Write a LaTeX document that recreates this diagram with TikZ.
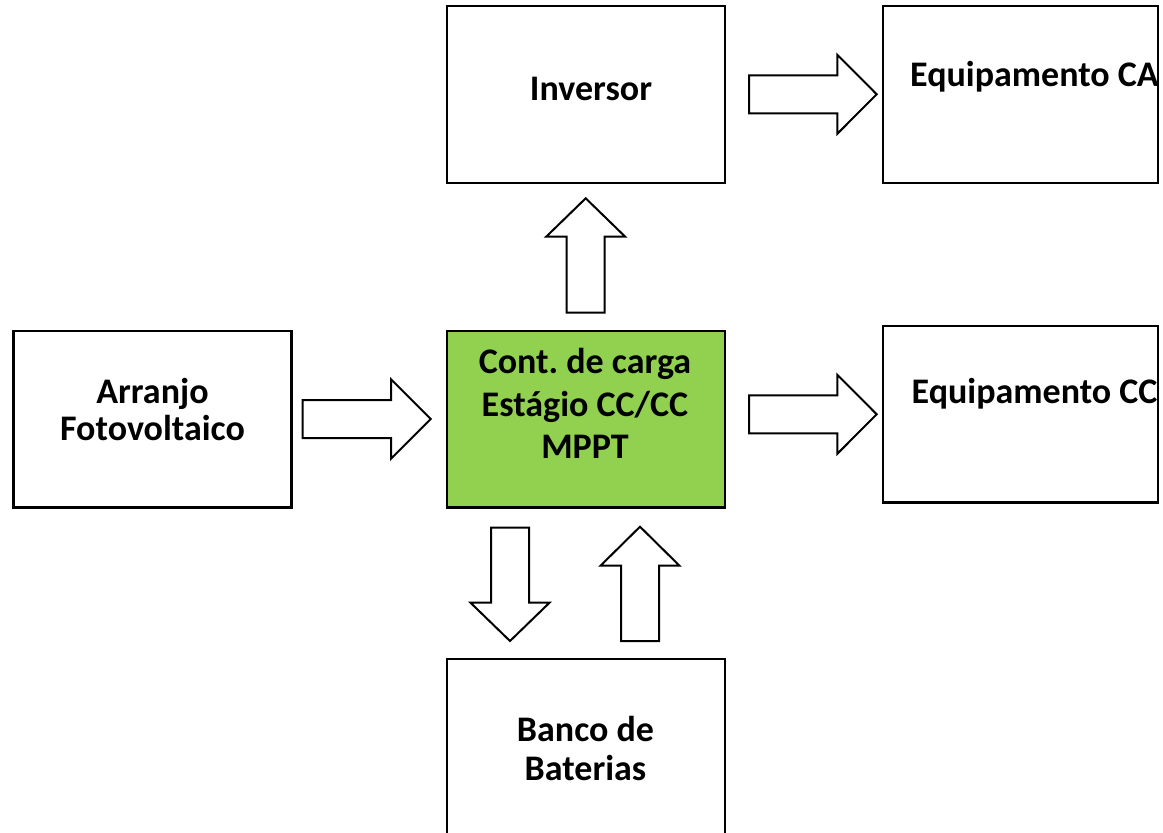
\documentclass[tikz,border=0pt]{standalone}
\usepackage{fontspec}
\setmainfont{Carlito}
\frenchspacing
\definecolor{boxgreen}{HTML}{92D050}
\newcommand{\myharrow}[4]{% center y, tail x, head base x, tip x
  \draw[barrow] (#2,#1-19) -- (#3,#1-19) -- (#3,#1-39.5) -- (#4,#1) -- (#3,#1+39.5) -- (#3,#1+19) -- (#2,#1+19) -- cycle;}
\newcommand{\myvarrow}[4]{% center x, tail y, head base y, tip y
  \draw[barrow] (#1-19,#2) -- (#1-19,#3) -- (#1-39.5,#3) -- (#1,#4) -- (#1+39.5,#3) -- (#1+19,#3) -- (#1+19,#2) -- cycle;}
\begin{document}
\begin{tikzpicture}[x=1pt,y=-1pt,
  blk/.style={draw=black, line width=2.2pt, fill=white, rectangle, inner sep=0pt, minimum width=278pt, minimum height=176.5pt},
  lbl/.style={inner sep=0pt, font=\fontsize{36}{42}\selectfont\bfseries},
  barrow/.style={draw=black, line width=2pt, fill=white, line join=miter}]
\useasboundingbox (0,0) rectangle (1163,833);
\clip (0,0) rectangle (1163,833);
% boxes
\node[blk] (arr) at (152.5,419.3) {};
\node[blk, fill=boxgreen] (cont) at (586,419.3) {};
\node[blk] (inv) at (586,94.5) {};
\node[blk, minimum width=274.5pt] (ca) at (1020.5,94.5) {};
\node[blk, minimum width=274.5pt] (cc) at (1020.5,414.3) {};
\node[blk, minimum height=190pt] (bat) at (586,754) {};
% texts
\node[lbl, anchor=base] (inv1) at (591,100) {Inversor};
\node[lbl, anchor=base west] (ca1) at (910,86.7) {Equipamento CA};
\node[lbl, anchor=base west] (cc1) at (911.5,403.3) {Equipamento CC};
\node[lbl, anchor=base] (arr1) at (152.5,403.3) {Arranjo};
\node[lbl, anchor=base] (arr2) at (152.5,440.7) {Fotovoltaico};
\node[lbl, anchor=base] (cont1) at (585,373.3) {Cont. de carga};
\node[lbl, anchor=base] (cont2) at (585,416.3) {Estágio CC/CC};
\node[lbl, anchor=base] (cont3) at (585,458.3) {MPPT};
\node[lbl, anchor=base] (bat1) at (585.5,741.7) {Banco de};
\node[lbl, anchor=base] (bat2) at (585.5,780) {Baterias};
% block arrows
\myharrow{419}{302.7}{391.2}{430.7}
\myharrow{94.3}{749}{837.3}{876.7}
\myharrow{414.3}{749}{837.3}{876.7}
\myvarrow{585.7}{312.7}{236.7}{198.3}
\myvarrow{510}{527.7}{602.7}{641}
\myvarrow{640}{641}{565.7}{526.7}
\end{tikzpicture}
\end{document}
